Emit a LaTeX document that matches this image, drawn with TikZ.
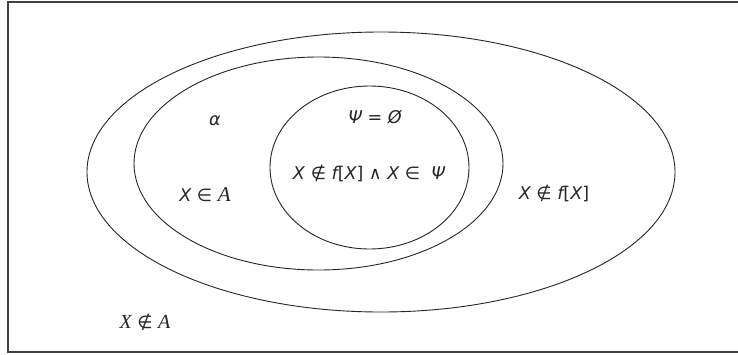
\documentclass[tikz,border=0pt]{standalone}
\usepackage{fontspec}
\setmainfont{DejaVu Sans}
\newfontfamily\serifit{Liberation Serif}
\begin{document}
\begin{tikzpicture}[x=1pt,y=-1pt,
  setline/.style={draw=black!85,line width=0.9pt},
  lbl/.style={font=\fontsize{17.5}{20}\selectfont,text=black!85,inner sep=0pt}]
\useasboundingbox (0,0) rectangle (738,354);
\fill[white] (0,0) rectangle (738,354);
\draw[draw=black!75,line width=2pt] (745,1.5) -- (8,1.5) -- (8,352) -- (745,352);
\draw[setline] (381,172) ellipse [x radius=294,y radius=140];
\draw[setline] (318.5,163.5) ellipse [x radius=184.5,y radius=106.5];
\draw[setline] (369.5,167.5) ellipse [x radius=99.5,y radius=81.5];
\node[lbl] (alpha) at (215,121) {\itshape α};
\node[lbl] (psi) at (375,117) {\itshape Ψ = Ø};
\node[lbl] (mid) at (369,173) {\itshape X\/ \upshape∉ \itshape f\upshape[\itshape X\upshape] ∧ \itshape X \upshape∈ \ \itshape Ψ};
\node[lbl] (xa) at (205,195) {\itshape X \upshape∈ {\serifit\itshape\fontsize{21}{22}\selectfont A}};
\node[lbl] (xf) at (554,193) {\itshape X \upshape∉ \itshape f\upshape[\itshape X\upshape]};
\node[lbl] (xna) at (145,322) {{\serifit\itshape\fontsize{20}{22}\selectfont X} ∉ {\serifit\itshape\fontsize{20}{22}\selectfont A}};
\end{tikzpicture}
\end{document}
